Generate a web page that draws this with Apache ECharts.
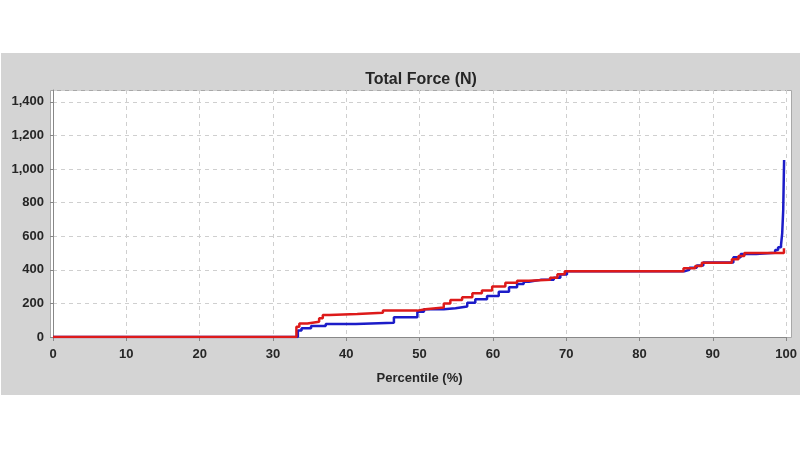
<!DOCTYPE html>
<html>
<head>
<meta charset="utf-8">
<script src="https://cdn.jsdelivr.net/npm/echarts@6/dist/echarts.min.js"></script>
<style>
html,body{margin:0;padding:0;background:#fff;}
#chart{width:800px;height:450px;}
</style>
</head>
<body>
<div id="chart"></div>
<script>
const titleText = 'Total Force (N)';
const xAxisName = 'Percentile (%)';
const xTicks = [0,10,20,30,40,50,60,70,80,90,100];
const yTicks = [0,200,400,600,800,1000,1200,1400];

// Percentile values (%)
const blueX = [0,33.4,33.9,35.2,37.2,41.3,46.5,49.7,50.6,53.3,54.9,56.5,57.6,59.2,60.8,62.2,63.3,64.2,64.9,66.5,68.3,69.2,70.1,86.2,86.8,87.8,88.7,92.8,93.8,95.9,98.5,98.9,99.3,99.46,99.6,99.72];
// Force values (N)
const blueY = [0,38,52,65,77,85,117,151,165,171,181,204,224,244,270,296,315,329,340,340,353,372,392,400,412,425,443,474,494,502,518,534,548,617,756,1054];

const redX = [0,33.2,33.6,34.7,36.3,36.8,37.7,41.5,45.0,49.7,50.8,53.3,54.2,55.8,57.2,58.5,59.9,61.7,63.3,64.9,67.8,68.8,69.8,86.0,87.6,88.5,92.6,93.5,94.3,99.7,99.75];
const redY = [0,61,81,91,111,131,137,145,157,165,175,200,220,236,260,276,300,323,335,340,353,373,392,409,423,442,462,482,500,528,528];

const blueData = blueX.map((x,i)=>[x, blueY[i]]);
const redData = redX.map((x,i)=>[x, redY[i]]);

const chart = echarts.init(document.getElementById('chart'), null, {renderer:'canvas'});
const txt = '#262626';
const font = '"Liberation Sans", Arial, sans-serif';
chart.setOption({
  animation:false,
  backgroundColor:'#ffffff',
  graphic:[
    {type:'rect', z:-10, silent:true, shape:{x:1,y:53,width:799,height:342}, style:{fill:'#d4d4d4'}},
    {type:'rect', z:-9, silent:true, shape:{x:50.5,y:90.5,width:741,height:247}, style:{fill:'#ffffff', stroke:'#a8a8a8', lineWidth:1}}
  ],
  title:{
    text:titleText, left:421, top:72, textAlign:'center', padding:0,
    textStyle:{fontFamily:font, fontWeight:'bold', fontSize:16, color:txt}
  },
  grid:{left:53, right:12, top:90, bottom:113, containLabel:false},
  xAxis:{
    type:'value', min:0, max:100, interval:10, offset:1,
    name:xAxisName, nameLocation:'middle', nameGap:34,
    nameTextStyle:{fontFamily:font, fontWeight:'bold', fontSize:13, color:txt},
    axisLine:{show:true, lineStyle:{color:'#888', width:1}},
    axisTick:{show:true, length:4, inside:false, lineStyle:{color:'#888'}},
    axisLabel:{margin:10, fontFamily:font, fontWeight:'bold', fontSize:13, color:txt,
      formatter:v=> xTicks.includes(v) ? String(v) : ''},
    splitLine:{show:true, lineStyle:{color:'#cfcfcf', type:[4,4], width:1}}
  },
  yAxis:{
    type:'value', min:0, max:1470, interval:200, offset:3,
    axisLine:{show:true, lineStyle:{color:'#888', width:1}},
    axisTick:{show:true, length:3, lineStyle:{color:'#888'}},
    axisLabel:{margin:6, showMaxLabel:false, fontFamily:font, fontWeight:'bold', fontSize:13, color:txt,
      formatter:v=> yTicks.includes(v) ? v.toLocaleString('en-US') : ''},
    splitLine:{show:true, lineStyle:{color:'#cfcfcf', type:[4,4], width:1}}
  },
  series:[
    {type:'line', name:'blue', data:blueData, step:'end', showSymbol:false, symbol:'none',
      lineStyle:{color:'#1c1cc8', width:2.5}, itemStyle:{color:'#1c1cc8'}, z:2},
    {type:'line', name:'red', data:redData, step:'end', showSymbol:false, symbol:'none',
      lineStyle:{color:'#dd1a1a', width:2.5}, itemStyle:{color:'#dd1a1a'}, z:3}
  ]
});
</script>
</body>
</html>
